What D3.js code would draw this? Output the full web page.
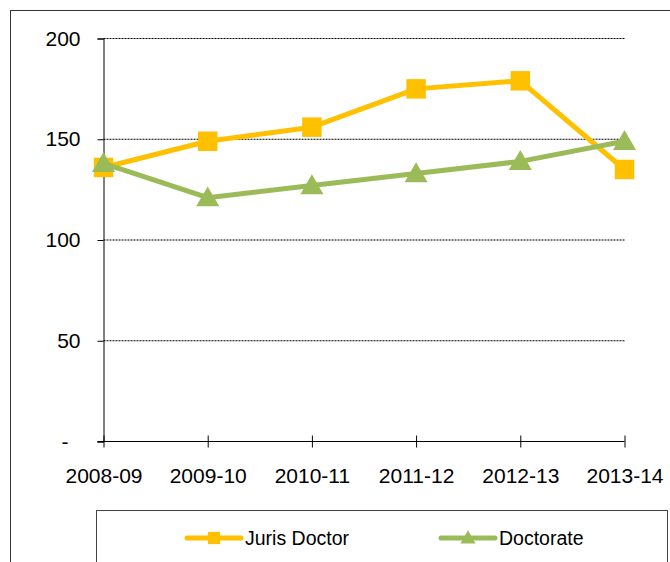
<!DOCTYPE html>
<html>
<head>
<meta charset="utf-8">
<script src="https://cdn.jsdelivr.net/npm/d3@7"></script>
<style>
  body { margin: 0; background: #fff; }
  svg { display: block; font-family: "Liberation Sans", Arial, sans-serif; }
</style>
</head>
<body>
<div id="chart"></div>
<script>
// chart data
const years = ["2008-09", "2009-10", "2010-11", "2011-12", "2012-13", "2013-14"];
const jurisDoctor = [136, 149, 156, 175, 179, 135];
const doctorate = [138, 121, 127, 133, 139, 149];
const yTicks = [0, 50, 100, 150, 200];

const width = 670, height = 562;
const fontSize = 21;
const svg = d3.select("#chart").append("svg")
    .attr("width", width)
    .attr("height", height);

// outer chart border (runs off the right and bottom edges)
svg.append("rect")
    .attr("x", 10.5).attr("y", 10.5)
    .attr("width", 700).attr("height", 600)
    .attr("fill", "none")
    .attr("stroke", "#333")
    .attr("stroke-width", 1);

const x = d3.scalePoint().domain(years).range([103.5, 624.5]);
const y = d3.scaleLinear().domain([0, 200]).range([441.5, 38.5]);

// gridlines
svg.append("g")
    .selectAll("line")
    .data(yTicks.filter(d => d > 0))
    .enter()
    .append("line")
    .attr("x1", x.range()[0]).attr("x2", x.range()[1])
    .attr("y1", d => y(d)).attr("y2", d => y(d))
    .attr("stroke", "#000")
    .attr("stroke-width", 1)
    .attr("stroke-dasharray", "2,1");

// y axis
const yAxis = svg.append("g")
    .attr("transform", `translate(${x.range()[0]},0)`)
    .call(d3.axisLeft(y).tickValues(yTicks).tickSize(6).tickPadding(17)
        .tickFormat(d => d === 0 ? "-" : d));
yAxis.select(".domain").attr("stroke", "#000");
yAxis.selectAll(".tick line").attr("stroke", "#000");
yAxis.selectAll("text").attr("font-size", fontSize).attr("fill", "#000")
    .attr("font-family", "Liberation Sans, Arial, sans-serif")
    .attr("dx", d => d === 0 ? -12 : 0);

// x axis
const xAxis = svg.append("g")
    .attr("transform", `translate(0,${y(0)})`)
    .call(d3.axisBottom(x).tickSizeOuter(0).tickSizeInner(6).tickPadding(21));
xAxis.select(".domain").attr("d", `M${x.range()[0] - 6},0H${x.range()[1]}`).attr("stroke", "#000");
xAxis.selectAll(".tick line").attr("y1", -6).attr("y2", 6).attr("stroke", "#000");
xAxis.selectAll("text").attr("font-size", fontSize).attr("fill", "#000")
    .attr("font-family", "Liberation Sans, Arial, sans-serif");

const series = [
    { name: "Juris Doctor", values: jurisDoctor, color: "#FFC000", marker: d3.symbolSquare, size: 380 },
    { name: "Doctorate", values: doctorate, color: "#9BBB59", marker: d3.symbolTriangle, size: 230 }
];

const line = d3.line()
    .x((d, i) => x(years[i]))
    .y(d => y(d));

series.forEach(s => {
    const g = svg.append("g");
    g.append("path")
        .datum(s.values)
        .attr("d", line)
        .attr("fill", "none")
        .attr("stroke", s.color)
        .attr("stroke-width", 5)
        .attr("stroke-linejoin", "round");
    g.selectAll("path.marker")
        .data(s.values)
        .enter()
        .append("path")
        .attr("class", "marker")
        .attr("d", d3.symbol().type(s.marker).size(s.size))
        .attr("transform", (d, i) => `translate(${x(years[i])},${y(d) + (s.marker === d3.symbolTriangle ? 2 : 0)})`)
        .attr("fill", s.color);
});

// legend
svg.append("rect")
    .attr("x", 96.5).attr("y", 510.5)
    .attr("width", 571).attr("height", 100)
    .attr("fill", "none")
    .attr("stroke", "#444")
    .attr("stroke-width", 1);

const legendX = [187, 441];
series.forEach((s, i) => {
    const lg = svg.append("g").attr("transform", `translate(${legendX[i]},538)`);
    lg.append("line")
        .attr("x1", 0).attr("x2", 54)
        .attr("stroke", s.color)
        .attr("stroke-width", 5)
        .attr("stroke-linecap", "round");
    lg.append("path")
        .attr("d", d3.symbol().type(s.marker).size(s.marker === d3.symbolTriangle ? 100 : 150))
        .attr("transform", `translate(27,${s.marker === d3.symbolTriangle ? 1 : 0})`)
        .attr("fill", s.color);
    lg.append("text")
        .attr("x", 58)
        .attr("y", 7)
        .attr("font-size", 19.5)
        .attr("fill", "#000")
        .text(s.name);
});
</script>
</body>
</html>
